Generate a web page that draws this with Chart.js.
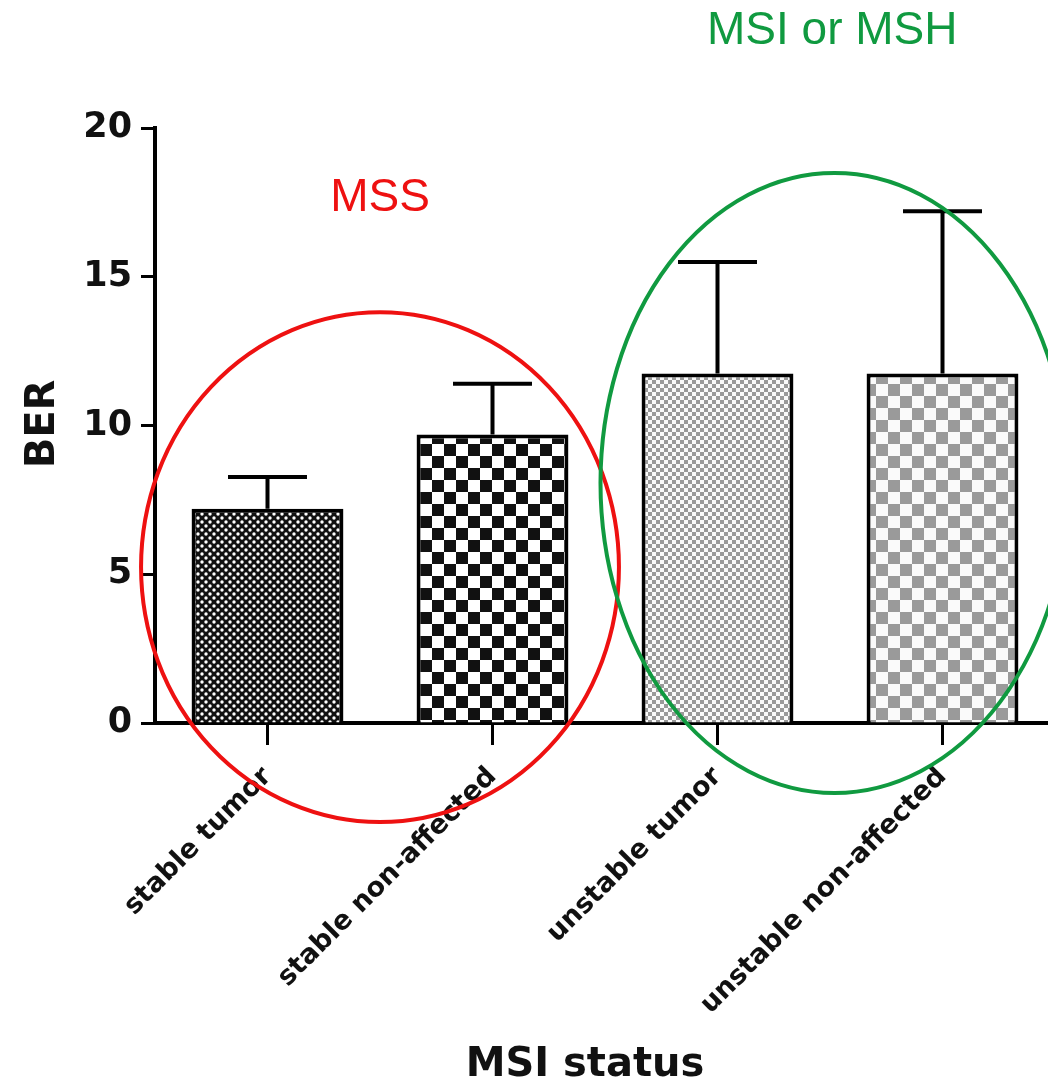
<!DOCTYPE html>
<html>
<head>
<meta charset="utf-8">
<script src="https://cdn.jsdelivr.net/npm/chart.js@4"></script>
<style>
html, body { margin: 0; padding: 0; overflow: hidden; background: #fff; }
#wrap { width: 1070px; height: 1092px; position: relative; }
</style>
</head>
<body>
<div id="wrap"><canvas id="c" width="1070" height="1092"></canvas></div>
<script>
// BER by MSI status: mean values with upper error (SD)
const categories = ['stable tumor', 'stable non-affected', 'unstable tumor', 'unstable non-affected'];
const berMean = [7.2, 9.7, 11.75, 11.75];
const berErrorUpper = [1.07, 1.7, 3.75, 5.45];
const yTicks = [0, 5, 10, 15, 20];

// Group rings drawn over the plot, in category-index / BER units
const groupNames = ['MSS', 'MSI or MSH'];
const groupColors = ['#ee1111', '#109a40'];
const groupCentreIndex = [0.5, 2.52];
const groupCentreValue = [5.24, 8.07];
const groupRadiusIndex = [1.062, 1.04];
const groupRadiusValue = [8.57, 10.42];
const groupLabelIndex = [0.5, 2.51];
const groupLabelValue = [17.65, 23.25];

const canvas = document.getElementById('c');
const ctx = canvas.getContext('2d');

function checker(cell, dark, light) {
  const t = document.createElement('canvas');
  t.width = t.height = cell * 2;
  const g = t.getContext('2d');
  g.fillStyle = light;
  g.fillRect(0, 0, cell * 2, cell * 2);
  g.fillStyle = dark;
  g.fillRect(0, 0, cell, cell);
  g.fillRect(cell, cell, cell, cell);
  return ctx.createPattern(t, 'repeat');
}
function dots(dark, light) {
  const t = document.createElement('canvas');
  t.width = t.height = 8;
  const g = t.getContext('2d');
  g.fillStyle = dark;
  g.fillRect(0, 0, 8, 8);
  g.fillStyle = light;
  g.beginPath(); g.arc(2, 2, 1.7, 0, Math.PI * 2); g.fill();
  g.beginPath(); g.arc(6, 6, 1.7, 0, Math.PI * 2); g.fill();
  return ctx.createPattern(t, 'repeat');
}
const fills = [
  dots('#111', '#fff'),
  checker(12, '#111', '#fff'),
  checker(4, '#9a9a9a', '#fafafa'),
  checker(12, '#9a9a9a', '#fafafa')
];

const errorBars = {
  id: 'errorBars',
  afterDatasetsDraw(chart) {
    const y = chart.scales.y;
    const meta = chart.getDatasetMeta(0);
    const c = chart.ctx;
    c.save();
    c.strokeStyle = '#000';
    c.lineWidth = 4;
    meta.data.forEach((bar, i) => {
      const top = y.getPixelForValue(berMean[i] + berErrorUpper[i]);
      const half = bar.width * 0.26;
      c.beginPath();
      c.moveTo(bar.x, bar.y);
      c.lineTo(bar.x, top);
      c.moveTo(bar.x - half, top);
      c.lineTo(bar.x + half, top);
      c.stroke();
    });
    c.restore();
  }
};

const overlay = {
  id: 'overlay',
  afterDraw(chart) {
    const c = chart.ctx;
    const x = chart.scales.x, y = chart.scales.y;
    const pxPerCat = x.getPixelForValue(1) - x.getPixelForValue(0);
    const pxPerUnit = y.getPixelForValue(0) - y.getPixelForValue(1);
    c.save();
    // axis titles
    c.fillStyle = '#111';
    c.font = 'bold 40px "DejaVu Sans"';
    c.textAlign = 'center';
    c.textBaseline = 'middle';
    c.fillText('MSI status', 585, 1066);
    c.save();
    c.translate(44, 424);
    c.rotate(-Math.PI / 2);
    c.fillText('BER', 0, 0);
    c.restore();
    // group rings and their labels
    groupNames.forEach((name, i) => {
      const cx = x.getPixelForValue(groupCentreIndex[i]);
      const cy = y.getPixelForValue(groupCentreValue[i]);
      c.strokeStyle = groupColors[i];
      c.lineWidth = 4;
      c.beginPath();
      c.ellipse(cx, cy, groupRadiusIndex[i] * pxPerCat, groupRadiusValue[i] * pxPerUnit, 0, 0, Math.PI * 2);
      c.stroke();
      c.fillStyle = groupColors[i];
      c.font = '46px "Liberation Sans"';
      c.fillText(name, x.getPixelForValue(groupLabelIndex[i]), y.getPixelForValue(groupLabelValue[i]));
    });
    c.restore();
  }
};

new Chart(ctx, {
  type: 'bar',
  data: {
    labels: categories,
    datasets: [{
      data: berMean,
      backgroundColor: fills,
      borderColor: '#000',
      borderWidth: 4,
      barPercentage: 0.675,
      categoryPercentage: 1
    }]
  },
  options: {
    responsive: false,
    animation: false,
    devicePixelRatio: 1,
    layout: { padding: { left: 0, top: 128, right: 15, bottom: 0 } },
    plugins: { legend: { display: false }, tooltip: { enabled: false } },
    scales: {
      x: {
        grid: { display: true, drawOnChartArea: false, offset: false, tickLength: 22, tickWidth: 3, tickColor: '#000' },
        border: { color: '#000', width: 4 },
        ticks: {
          color: '#111',
          font: { family: 'DejaVu Sans', weight: 'bold', size: 27 },
          minRotation: 45, maxRotation: 45, padding: 16
        },
        afterFit(s) { s.height = 369; }
      },
      y: {
        min: 0, max: 20,
        afterBuildTicks(s) { s.ticks = yTicks.map(v => ({ value: v })); },
        grid: { drawOnChartArea: false, tickLength: 14, tickWidth: 3, tickColor: '#000' },
        border: { color: '#000', width: 4 },
        ticks: { color: '#111', font: { family: 'DejaVu Sans', weight: 'bold', size: 35 }, padding: 9 },
        afterFit(s) { s.width = 155; }
      }
    }
  },
  plugins: [errorBars, overlay]
});
</script>
</body>
</html>
